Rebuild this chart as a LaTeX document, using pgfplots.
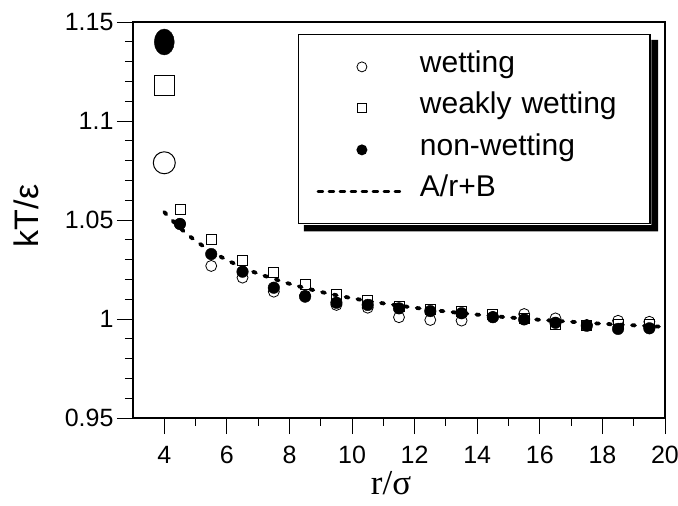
\documentclass[border=0pt]{standalone}
\usepackage{pgfplots}
\pgfplotsset{compat=1.18}
\usepackage{pgfplotstable}
\usepackage{fontspec}
\setmainfont{Liberation Sans}
\newfontfamily\timesfont{Liberation Serif}

% wetting walls (open circles)
\pgfplotstableread{
x y
4.5 1.0480
5.5 1.0268
6.5 1.0209
7.5 1.0138
8.5 1.0118
9.5 1.0071
10.5 1.0057
11.5 1.0009
12.5 0.9995
13.5 0.9992
14.5 1.0010
15.5 1.0025
16.5 1.0003
17.5 0.9970
18.5 0.9991
19.5 0.9986
}\wetting

% weakly wetting walls (open squares)
\pgfplotstableread{
x y
4.5 1.0554
5.5 1.0400
6.5 1.0298
7.5 1.0237
8.5 1.0175
9.5 1.0126
10.5 1.0096
11.5 1.0066
12.5 1.0050
13.5 1.0037
14.5 1.0025
15.5 1.0003
16.5 0.9973
17.5 0.9969
18.5 0.9975
19.5 0.9973
}\weakly

% non-wetting walls (filled circles)
\pgfplotstableread{
x y
4.5 1.0480
5.5 1.0328
6.5 1.0239
7.5 1.0158
8.5 1.0113
9.5 1.0082
10.5 1.0071
11.5 1.0054
12.5 1.0040
13.5 1.0029
14.5 1.0009
15.5 0.9998
16.5 0.9981
17.5 0.9966
18.5 0.9950
19.5 0.9953
}\nonwetting

% fit A/r+B
\pgfplotstableread{
x y
4 1.0540
4.5 1.0460
5 1.0395
5.5 1.0342
6 1.0298
6.5 1.0261
7 1.0229
8 1.0178
9 1.0137
10 1.0105
11 1.0079
12 1.0057
13 1.0038
14 1.0022
15 1.0008
16 0.9996
17 0.9986
18 0.9976
19 0.9968
20 0.9960
}\fit

\begin{document}
\begin{tikzpicture}
\path[use as bounding box] (0,0) rectangle (678pt,506pt);
\begin{axis}[
    at={(133pt,88pt)}, anchor=south west,
    scale only axis, width=532pt, height=396pt,
    xmin=3, xmax=20, ymin=0.95, ymax=1.15,
    xtick={4,6,...,20}, minor x tick num=1,
    ytick={0.95,1,1.05,1.1,1.15}, minor y tick num=4,
    tick pos=left, tick align=outside,
    major tick length=16pt, minor tick length=8pt,
    every tick/.style={black, line width=0.9pt},
    axis line style={line width=2.6pt},
    tick label style={font=\fontsize{25}{28}\selectfont},
    xticklabel style={yshift=-9pt},
    /pgf/number format/assume math mode=true,
    xlabel={\timesfont r/σ},
    ylabel={kT/ε},
    every axis x label/.style={at={(axis description cs:0.485,-0.165)}, anchor=center,
        inner sep=0pt, font=\fontsize{35}{38}\selectfont},
    every axis y label/.style={at={(axis description cs:-0.201,0.51)}, anchor=center, rotate=90,
        font=\fontsize{34}{38}\selectfont},
    legend cell align=left,
    legend style={
        name=leg,
        at={(axis description cs:0.310,0.970)}, anchor=north west,
        draw=black, line width=1.5pt, fill=white,
        font=\fontsize{30}{34}\selectfont,
        inner xsep=18pt, inner ysep=15.75pt, row sep=8.5pt,
        nodes={inner sep=2pt, text height=20pt, text depth=9pt, text width=210pt, align=left},
    },
]
    \addplot[only marks, mark=o, mark size=5.5pt, mark options={line width=0.8pt},
        legend image code/.code={\path[draw=none, fill=none] (0pt,0pt) -- (100pt,0pt);
            \draw[line width=0.8pt, fill=none] (44pt,0pt) circle (5pt);}]
        table {\wetting};
    \addlegendentry{wetting}

    \addplot[only marks, mark=square, mark size=5pt, mark options={line width=0.8pt},
        legend image code/.code={\path[draw=none, fill=none] (0pt,0pt) -- (100pt,0pt);
            \draw[line width=0.8pt, fill=none] (39.5pt,-4.5pt) rectangle (48.5pt,4.5pt);}]
        table {\weakly};
    \addlegendentry{weakly wetting}

    \addplot[only marks, mark=*, mark size=5.8pt,
        legend image code/.code={\path[draw=none, fill=none] (0pt,0pt) -- (100pt,0pt);
            \fill[draw=none, black] (44pt,0pt) circle (5.5pt);}]
        table {\nonwetting};
    \addlegendentry{non-wetting}

    \addplot[black, line width=3.8pt, line cap=round, dash pattern=on 3pt off 9pt, smooth,
        legend image code/.code={\path[draw=none, fill=none] (0pt,0pt) -- (100pt,0pt);
            \draw[line width=2.5pt, dash pattern=on 5pt off 6pt] (0pt,0pt) -- (87pt,0pt);}]
        table {\fit};
    \addlegendentry{A/r+B}

    % large symbols at r = 4
    \addplot[forget plot, only marks, mark=o, mark size=11pt, mark options={line width=1pt}]
        coordinates {(4, 1.0789)};
    \addplot[forget plot, only marks, mark=square, mark size=10pt, mark options={line width=1pt}]
        coordinates {(4, 1.1177)};
    \addplot[forget plot, only marks, mark=*, mark size=10pt, mark options={yscale=1.3}]
        coordinates {(4, 1.1399)};
\end{axis}
% shadow of the legend box
\fill[black] ([shift={(0.75pt,-6pt)}]leg.north east) -- ([shift={(7.5pt,-6pt)}]leg.north east)
    -- ([shift={(7.5pt,-7pt)}]leg.south east) -- ([shift={(6pt,-7pt)}]leg.south west)
    -- ([shift={(6pt,-0.75pt)}]leg.south west) -- ([shift={(0.75pt,-0.75pt)}]leg.south east) -- cycle;
\end{tikzpicture}
\end{document}
